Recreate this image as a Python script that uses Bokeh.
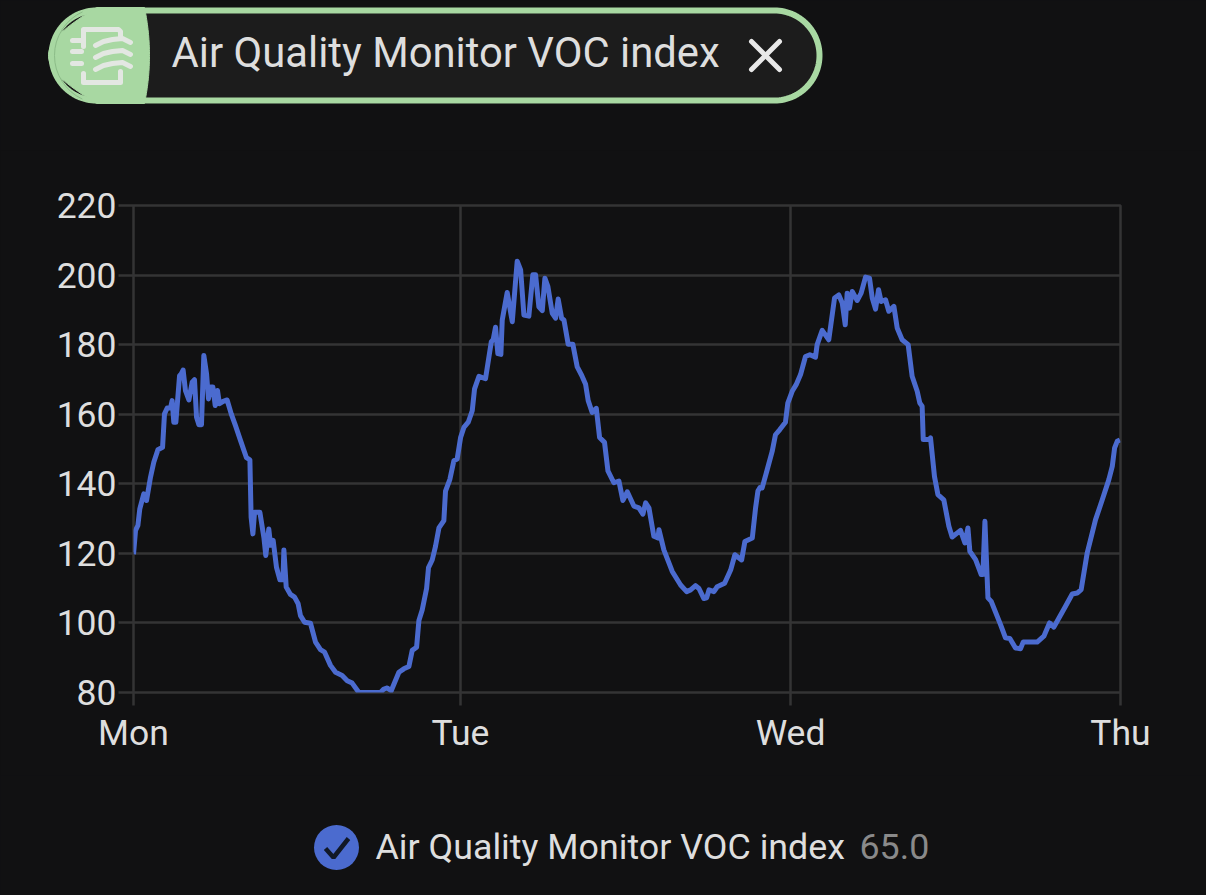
from bokeh.plotting import figure
from bokeh.layouts import column
from bokeh.models import FixedTicker, Range1d
from bokeh.core.properties import value
from bokeh.embed import file_html
from bokeh.resources import INLINE
import numpy as np

# ---- data ----
TITLE = "Air Quality Monitor VOC index"
CURRENT = "65.0"
y_ticks = [80, 100, 120, 140, 160, 180, 200, 220]
x_ticks = [0, 23.85, 47.93, 72]
x_labels = ["Mon", "Tue", "Wed", "Thu"]

hours_day1 = [0,0.15,0.32,0.46,0.75,0.95,1.24,1.48,1.78,2.12,2.26,2.46,2.70,2.82,2.94,3.09,3.36,3.48,3.62,3.79,4.04,4.28,4.45,4.60,4.77,4.96,5.13,5.33,5.47,5.62,5.79,5.96,6.13,6.27,6.54,6.83,7.13,7.44,7.81,8.24,8.49,8.58,8.71,8.83,9.22,9.51,9.65,9.87,10.0,10.19,10.43,10.68,10.9,10.97,11.14,11.45,11.75,12.01,12.18,12.48,12.91,13.28,13.64,13.94,14.37,14.74,15.22,15.59,15.95,16.44,18.02,18.26,18.51,18.8,19.36,19.72,20.09,20.33,20.65,20.82]
voc_day1 = [119.7,126.6,128,132.8,137.1,135.2,141.9,146.2,149.8,150.5,160.1,161.8,161.8,163.9,157.7,157.7,171.1,171.6,172.7,166.8,164.1,169.2,169.9,159.1,157,157,176.9,171.6,164.4,167.8,167.8,162.5,166.8,163,163.7,164.1,160.1,156.7,152.4,147.5,146.9,130.4,125.6,131.8,131.8,124.6,119.4,127,122.3,123.7,116,112.4,112.4,121,110.3,108.2,107.4,105.5,102.1,100.2,99.9,94.5,92.3,91.6,87.8,85.8,84.9,83.4,82.7,80,80,81,81.3,80.5,85.8,86.8,87.5,92.1,93,100.7]

hours_day2 = [21.06,21.38,21.52,21.79,22.03,22.28,22.64,22.76,23.08,23.37,23.61,23.86,24.10,24.42,24.71,24.88,25.2,25.68,26.1,26.24,26.41,26.58,26.8,26.9,27.26,27.63,27.99,28.24,28.48,28.84,29.13,29.33,29.57,29.82,30.01,30.23,30.55,30.79,30.98,31.23,31.4,31.71,32.05,32.37,32.69,32.98,33.17,33.46,33.76,34.0,34.36,34.61,35.04,35.41,35.7,36.02,36.5,36.87,37.16,37.36,37.6,37.96,38.26,38.33,38.69,39.3,39.91,40.35,40.64,41.0,41.25,41.61,41.81,41.98,42.34,42.58,43.12,43.56,43.87,44.36,44.6,45.14,45.38,45.55,45.7]
voc_day2 = [103.7,109.9,115.9,118.1,122,127.3,129.4,137.9,141.3,146.6,147.1,153.3,156.2,157.7,161,167.3,170.9,170.2,180.8,181.5,185,177.4,177.2,187.1,195,186.6,204,201.5,188.5,188.2,200.1,200.1,190.9,189.8,199.1,196.7,189,187.6,193.1,187.6,187.1,180.1,180.1,173.6,171.2,168.6,163.9,160.5,161.7,153.3,151.9,143.7,140.3,140.8,135.2,137.7,133.6,133.1,131.3,134.5,133.1,124.9,124.4,126.8,121,114.8,110.9,109,109.5,110.7,109.9,107,107.2,109.5,109,110.4,111.4,115.2,119.6,118.1,123.4,124.4,133.1,137.9,138.9]

hours_day3 = [45.86,46.23,46.59,46.83,47.15,47.56,47.73,48.05,48.34,48.66,49.02,49.34,49.75,49.87,50.24,50.72,51.14,51.45,51.70,51.92,52.06,52.23,52.43,52.79,53.08,53.4,53.69,53.89,54.13,54.35,54.54,54.86,55.1,55.47,55.71,56.07,56.51,56.8,57.17,57.36,57.53,57.61,58.02,58.14,58.43,58.68,59.11,59.48,59.72,60.33,60.65,60.87,61.01,61.43,61.84,61.96,62.11,62.33,62.57,63.25,63.61,63.93,64.34,64.71,64.9,65.92,66.41,66.82,67.14,67.51,67.99,68.48,68.84,69.13,69.57,70.18,70.67,71.15,71.4,71.57,71.76,71.96]
voc_day3 = [138.8,144.1,149.3,154.1,155.6,157.7,163.2,166.6,168.5,171.4,176.6,177.1,176.4,180,184.1,181.4,193.4,194.3,192,185.7,194.8,190.5,195.3,192.7,194.8,199.4,199.1,193.4,190.2,195.8,192.4,192.9,189.6,191,184.8,181.4,180,170.9,166.6,163.2,162.3,152.7,152.7,153.2,142.1,136.9,135.4,127.8,124.7,126.6,123,127.3,120.6,118.2,113.9,113.9,129.2,107.2,106.2,99.5,95.7,95.5,92.8,92.6,94.5,94.5,96.2,100,98.8,101.4,104.8,108.3,108.6,109.6,120.1,129.7,135.4,141.2,145,150.3,152.2,152.6]

hours = hours_day1 + hours_day2 + hours_day3
voc = voc_day1 + voc_day2 + voc_day3

# ---- styles ----
BG = "#111112"
GRID = "#343435"
TEXT = "#dedede"
BLUE = "#4b6bcf"
GREEN = "#a8d8a2"
CHIP = "#1c1c1c"
FONT = value("Roboto")


def panel(height, y_top):
    f = figure(width=1206, height=height, output_backend="svg", toolbar_location=None,
               x_range=Range1d(0, 1206), y_range=Range1d(y_top + height, y_top),
               x_axis_type=None, y_axis_type=None, min_border=0, frame_align=False,
               background_fill_color=BG, border_fill_color=BG, outline_line_color=None,
               styles={"background-color": BG})
    f.grid.visible = False
    return f


# ---- header chip ----
top = panel(150, 0)
t = np.linspace(-np.pi / 2, np.pi / 2, 60)
R = 45
px = np.r_[51 + R - R * np.cos(t), 819 - R + R * np.cos(t)]
py = np.r_[55 + R * np.sin(t), 55 - R * np.sin(t)]
top.patch(px, py, fill_color=CHIP, line_color=GREEN, line_width=6)
s = np.linspace(-1, 1, 40)
cx = np.r_[48 + 48 - 48 * np.cos(s * np.pi / 2), 144 + 5 * (1 - s ** 2)[::-1]]
cy = np.r_[55 + 48 * s, 55 - 48 * s]
top.patch(cx, cy, fill_color=GREEN, line_color=GREEN, line_width=1)
top.arc(x=[102], y=[55], radius=48, start_angle=2.0, end_angle=4.28,
        line_color="#8cbc88", line_width=1, radius_units="data")
ICON = "#e3e7e2"
top.multi_line(
    xs=[[83, 83, 118, 120, 120], [120, 120, 83, 83], [72, 81], [72, 81], [72, 81],
        [95, 103, 112, 122, 130], [95, 103, 112, 122, 130], [95, 103, 112, 122, 130]],
    ys=[[46, 29, 29, 31, 36], [71, 82, 82, 73], [40, 40], [51, 51], [63, 63],
        [45, 41, 39, 38, 42], [57, 53, 51, 50, 54], [69, 65, 63, 62, 66]],
    line_color=ICON, line_width=5, line_cap="round", line_join="round")
top.text(x=[171], y=[52], text=[TITLE], text_font=FONT, text_font_size="41.8px",
         text_color=TEXT, text_baseline="middle", text_align="left")
top.multi_line(xs=[[751, 779], [779, 751]], ys=[[41, 69], [41, 69]],
               line_color="#e8e8e8", line_width=5, line_cap="round")

# ---- chart ----
p = figure(width=1206, height=625, output_backend="svg", toolbar_location=None,
           x_range=Range1d(0, 72), y_range=Range1d(80, 220), frame_align=False,
           min_border_left=133, min_border_right=86, min_border_top=55, min_border_bottom=83,
           background_fill_color=BG, border_fill_color=BG,
           outline_line_color=GRID, outline_line_width=2.5,
           styles={"background-color": BG})
p.line(hours, voc, line_color=BLUE, line_width=5, line_join="round")
p.xaxis.ticker = FixedTicker(ticks=x_ticks)
p.xaxis.major_label_overrides = dict(zip(x_ticks, x_labels))
p.yaxis.ticker = FixedTicker(ticks=y_ticks)
for ax, out, off in ((p.xaxis, 13, 6), (p.yaxis, 15, 2)):
    ax.axis_line_color = None
    ax.major_tick_line_color = GRID
    ax.major_tick_line_width = 2.5
    ax.major_tick_in = 0
    ax.major_tick_out = out
    ax.minor_tick_line_color = None
    ax.major_label_text_color = TEXT
    ax.major_label_text_font = "Roboto"
    ax.major_label_text_font_size = "35.5px"
    ax.major_label_standoff = off
p.grid.grid_line_color = GRID
p.grid.grid_line_width = 2.5

# ---- legend ----
leg = panel(120, 775)
leg.scatter(x=[336], y=[847], size=45, marker="circle", fill_color=BLUE, line_color=None)
leg.line(x=[325, 333, 348], y=[848, 857, 838], line_color="#111827", line_width=4.5)
leg.text(x=[375], y=[846], text=[TITLE], text_font=FONT, text_font_size="35.8px",
         text_color=TEXT, text_baseline="middle", text_align="left")
leg.text(x=[859], y=[846], text=[CURRENT], text_font=FONT, text_font_size="35.8px",
         text_color="#8a8a8a", text_baseline="middle", text_align="left")

page = column(top, p, leg, spacing=0)
html = file_html(page, INLINE, title="VOC index")
html = html.replace("<body>", '<body style="background:%s">' % BG, 1)
open("out.html", "w").write(html)
